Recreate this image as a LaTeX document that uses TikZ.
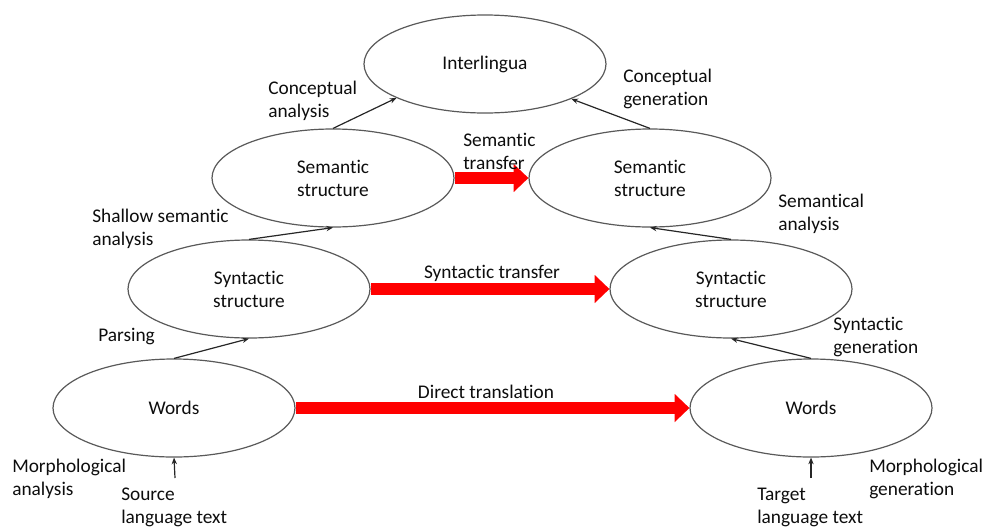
\documentclass[tikz,border=0pt]{standalone}
\usepackage{fontspec}
\setmainfont{Carlito}[Ligatures=NoCommon]
\usetikzlibrary{arrows.meta,shapes.geometric}

\tikzset{
  oval/.style={ellipse,draw=black!65,line width=0.9pt,minimum width=181.5pt,minimum height=73.5pt,inner sep=0pt,align=center,text=black!95},
  lbl/.style={anchor=west,inner sep=0pt,align=left,text=black!95},
  flow/.style={draw=black!85,line width=0.9pt,-{Stealth[length=5pt,width=4pt]}},
  transfer/.style={draw=red,line width=9pt,-{Triangle[length=11pt,width=21pt,line width=0pt]}}
}

\begin{document}
\begin{tikzpicture}[x=0.75pt,y=0.75pt,yscale=-1,xscale=1,font=\fontsize{14.5}{17.25}\selectfont]
\useasboundingbox (0,0) rectangle (988,529);

%Shape: Ellipse
\draw (485,64) node [oval] (inter) {Interlingua};
%Shape: Ellipse
\draw (333,178) node [oval] (sem-l) {Semantic\\structure};
%Shape: Ellipse
\draw (650,178) node [oval] (sem-r) {Semantic\\structure};
%Shape: Ellipse
\draw (249,289) node [oval] (syn-l) {Syntactic\\structure};
%Shape: Ellipse
\draw (731,289) node [oval] (syn-r) {Syntactic\\structure};
%Shape: Ellipse
\draw (174,408) node [oval] (words-l) {Words};
%Shape: Ellipse
\draw (811,408) node [oval] (words-r) {Words};

%Straight Lines
\draw [flow] (sem-l.north) -- (inter.201);
%Straight Lines
\draw [flow] (sem-r.north) -- (inter.338);
%Straight Lines
\draw [flow] (syn-l.north) -- (sem-l.south);
%Straight Lines
\draw [flow] (syn-r.north) -- (sem-r.south);
%Straight Lines
\draw [flow] (words-l.north) -- (syn-l.south);
%Straight Lines
\draw [flow] (words-r.north) -- (syn-r.south);

%Straight Lines
\coordinate (src) at (175,478);
\draw [flow] (src) -- (words-l.south);
%Straight Lines
\coordinate (tgt) at (811,478);
\draw [flow] (tgt) -- (words-r.south);

%Block Arrows
\draw [transfer] (sem-l.east) -- (sem-r.west);
%Block Arrows
\draw [transfer] (syn-l.east) -- (syn-r.west);
%Block Arrows
\draw [transfer] (words-l.east) -- (words-r.west);

% Text Node
\draw (268,100.5) node [lbl] (lbl-ca) {Conceptual\\analysis};
% Text Node
\draw (623,88.5) node [lbl] (lbl-cg) {Conceptual\\generation};
% Text Node
\draw (463,151.5) node [lbl] (lbl-st) {Semantic\\transfer};
% Text Node
\draw (92,229) node [lbl] (lbl-ssa) {Shallow semantic\\analysis};
% Text Node
\draw (778,213.5) node [lbl] (lbl-sa) {Semantical\\analysis};
% Text Node
\draw (492,273) node [lbl,anchor=center] (lbl-syt) {Syntactic transfer};
% Text Node
\draw (98,337) node [lbl] (lbl-p) {Parsing};
% Text Node
\draw (833,337.5) node [lbl] (lbl-sg) {Syntactic\\generation};
% Text Node
\draw (486,392) node [lbl,anchor=center] (lbl-dt) {Direct translation};
% Text Node
\draw (12,478.5) node [lbl] (lbl-ma) {Morphological\\analysis};
% Text Node
\draw (121,507.5) node [lbl] (lbl-src) {Source\\language text};
% Text Node
\draw (757,507.5) node [lbl] (lbl-tgt) {Target\\language text};
% Text Node
\draw (869,478.5) node [lbl] (lbl-mg) {Morphological\\generation};

\end{tikzpicture}
\end{document}
